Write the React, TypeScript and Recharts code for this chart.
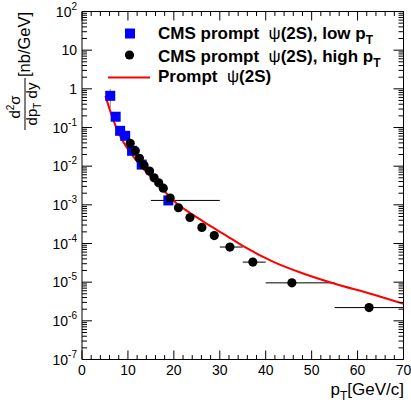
import React from "react";
import {
  ComposedChart,
  ErrorBar,
  Line,
  ReferenceLine,
  Scatter,
  XAxis,
  YAxis,
} from "recharts";

const FONT = '"Liberation Sans", Arial, Helvetica, sans-serif';

const W = 411;
const H = 403;
const PLOT_LEFT = 82;
const PLOT_RIGHT = 403.5;
const PLOT_TOP = 11.5;
const PLOT_BOTTOM = 359.5;
const Y_AXIS_W = 60;
const X_AXIS_H = 30;

// CMS prompt psi(2S), low pT (blue squares)
const lowPt = [6.15, 7.33, 8.3, 9.4, 10.9, 13.0, 18.8];
const lowVal = [0.66, 0.19, 0.082, 0.061, 0.025, 0.011, 0.0013];
const lowErrLo = [0, 0, 0, 0, 0, 0, 3.8];
const lowErrHi = [0, 0, 0, 0, 0, 0, 11.2];
const lowErrY = [0.34, 0, 0, 0, 0, 0, 0];

// CMS prompt psi(2S), high pT (black circles)
const highPt = [10.5, 11.6, 12.5, 13.5, 14.7, 15.7, 16.7, 17.7, 19.2, 21.0, 23.5, 26.1, 28.8, 32.2, 37.2, 45.7, 62.5];
const highVal = [0.039, 0.025, 0.016, 0.0105, 0.0075, 0.005, 0.0037, 0.0027, 0.0015, 0.00084, 0.00047, 0.00026, 0.00016, 8.1e-5, 3.3e-5, 9.6e-6, 2.2e-6];
const highErrLo = [0, 0, 0, 0, 0, 0, 0, 0, 0, 0, 0, 0, 0, 2.2, 2.2, 5.7, 7.5];
const highErrHi = [0, 0, 0, 0, 0, 0, 0, 0, 0, 0, 0, 0, 0, 2.8, 2.8, 9.3, 7.5];

// Prompt psi(2S) prediction (red curve)
const curvePt = [5.1, 6.5, 7.6, 9.0, 10.9, 12.7, 14.9, 17.7, 20.7, 23.0, 25.7, 28.0, 30.8, 35.0, 41.8, 48.0, 54.5, 63.4, 70];
const curveVal = [0.66, 0.2, 0.091, 0.042, 0.0195, 0.0105, 0.0054, 0.0024, 0.00107, 0.00068, 0.00042, 0.00028, 0.000178, 8.7e-5, 3.3e-5, 1.7e-5, 9.5e-6, 4.8e-6, 2.75e-6];

const xTicks = [0, 2, 4, 6, 8, 10, 12, 14, 16, 18, 20, 22, 24, 26, 28, 30, 32, 34, 36, 38, 40, 42, 44, 46, 48, 50, 52, 54, 56, 58, 60, 62, 64, 66, 68, 70];
const xMajor = [0, 10, 20, 30, 40, 50, 60, 70];

const yDecades = [-7, -6, -5, -4, -3, -2, -1, 0, 1, 2];
const yLabels: Record<number, [string, string]> = {
  [-7]: ["10", "-7"],
  [-6]: ["10", "-6"],
  [-5]: ["10", "-5"],
  [-4]: ["10", "-4"],
  [-3]: ["10", "-3"],
  [-2]: ["10", "-2"],
  [-1]: ["10", "-1"],
  0: ["1", ""],
  1: ["10", ""],
  2: ["10", "2"],
};

const yTicks: number[] = [];
yDecades.forEach((d) => {
  if (d === 2) {
    yTicks.push(100);
    return;
  }
  for (let m = 1; m <= 9; m++) yTicks.push(m * Math.pow(10, d));
});

const lowData = lowPt.map((x, i) => ({
  x,
  y: lowVal[i],
  ex: [lowErrLo[i], lowErrHi[i]],
  ey: lowErrY[i],
}));
const highData = highPt.map((x, i) => ({ x, y: highVal[i], ex: [highErrLo[i], highErrHi[i]] }));
const curveData = curvePt.map((x, i) => ({ x, y: curveVal[i] }));

function XTick(props: any) {
  const { x, payload } = props;
  const v = payload.value;
  const major = xMajor.includes(v);
  const len = major ? 9 : 4.5;
  return (
    <g>
      <line x1={x} x2={x} y1={PLOT_BOTTOM} y2={PLOT_BOTTOM - len} stroke="#000" strokeWidth={1} />
      <line x1={x} x2={x} y1={PLOT_TOP} y2={PLOT_TOP + len} stroke="#000" strokeWidth={1} />
      {major && (
        <text x={x} y={375} textAnchor="middle" fontFamily={FONT} fontSize={14} fill="#000">
          {v}
        </text>
      )}
    </g>
  );
}

function YTick(props: any) {
  const { y, payload } = props;
  const v = payload.value;
  const lg = Math.log10(v);
  const dec = Math.round(lg);
  const major = Math.abs(lg - dec) < 1e-6;
  const len = major ? 10 : 5;
  const lab = yLabels[dec];
  return (
    <g>
      <line x1={PLOT_LEFT} x2={PLOT_LEFT + len} y1={y} y2={y} stroke="#000" strokeWidth={1} />
      <line x1={PLOT_RIGHT} x2={PLOT_RIGHT - len} y1={y} y2={y} stroke="#000" strokeWidth={1} />
      {major && lab && (
        <text x={77} y={y + 5} textAnchor="end" fontFamily={FONT} fontSize={14} fill="#000">
          <tspan>{lab[0]}</tspan>
          {lab[1] && (
            <tspan dy={-7} fontSize={10}>
              {lab[1]}
            </tspan>
          )}
        </text>
      )}
    </g>
  );
}

const squareShape = (p: any) => (
  <rect x={p.cx - 5} y={p.cy - 5} width={10} height={10} fill="#0000ff" />
);
const circleShape = (p: any) => <circle cx={p.cx} cy={p.cy} r={4.6} fill="#000" />;

export default function App() {
  return (
    <div style={{ position: "fixed", left: 0, top: 0, width: W, height: H, background: "#fff" }}>
      <ComposedChart
        width={W}
        height={H}
        margin={{
          top: PLOT_TOP,
          right: W - PLOT_RIGHT,
          bottom: H - PLOT_BOTTOM - X_AXIS_H,
          left: PLOT_LEFT - Y_AXIS_W,
        }}
      >
        <XAxis
          dataKey="x"
          type="number"
          domain={[0, 70]}
          allowDataOverflow
          ticks={xTicks}
          interval={0}
          tick={XTick}
          tickLine={false}
          height={X_AXIS_H}
          axisLine={{ stroke: "#000" }}
        />
        <YAxis
          dataKey="y"
          type="number"
          scale="log"
          domain={[1e-7, 100]}
          allowDataOverflow
          ticks={yTicks}
          interval={0}
          tick={YTick}
          tickLine={false}
          width={Y_AXIS_W}
          axisLine={{ stroke: "#000" }}
        />
        <ReferenceLine x={70} stroke="#000" />
        <ReferenceLine y={100} stroke="#000" />
        <Scatter data={lowData} shape={squareShape} isAnimationActive={false}>
          <ErrorBar dataKey="ey" direction="y" width={0} stroke="#888" strokeWidth={1} />
          <ErrorBar dataKey="ex" direction="x" width={0} stroke="#000" strokeWidth={1} />
        </Scatter>
        <Scatter data={highData} shape={circleShape} isAnimationActive={false}>
          <ErrorBar dataKey="ex" direction="x" width={0} stroke="#000" strokeWidth={1} />
        </Scatter>
        <Line
          data={curveData}
          dataKey="y"
          type="monotone"
          stroke="#ff0000"
          strokeWidth={2}
          dot={false}
          activeDot={false}
          isAnimationActive={false}
        />
      </ComposedChart>
      <svg
        width={W}
        height={H}
        style={{ position: "absolute", left: 0, top: 0, pointerEvents: "none" }}
        fontFamily={FONT}
      >
        {/* legend */}
        <rect x={125} y={28.5} width={10} height={10} fill="#0000ff" />
        <circle cx={129.5} cy={55} r={4.6} fill="#000" />
        <line x1={108} x2={150} y1={77.5} y2={77.5} stroke="#ff0000" strokeWidth={2} />
        <text x={158} y={38.5} fontSize={17} fontWeight="bold" fill="#000">
          CMS prompt{"\u00a0\u00a0"}
          <tspan fontWeight="normal">ψ</tspan>(2S), low p
          <tspan fontSize={12} dy={5}>T</tspan>
        </text>
        <text x={158} y={61.5} fontSize={17} fontWeight="bold" fill="#000">
          CMS prompt{"\u00a0\u00a0"}
          <tspan fontWeight="normal">ψ</tspan>(2S), high p
          <tspan fontSize={12} dy={5}>T</tspan>
        </text>
        <text x={158} y={82} fontSize={17} fontWeight="bold" fill="#000">
          Prompt{"\u00a0\u00a0"}
          <tspan fontWeight="normal">ψ</tspan>(2S)
        </text>
        {/* y title */}
        <g transform="translate(25,104) rotate(-90)">
          <text x={-3} y={-5} textAnchor="middle" fontSize={15} fill="#000">
            d<tspan fontSize={10} dy={-6}>2</tspan>
            <tspan dy={6}>σ</tspan>
          </text>
          <line x1={-26} x2={26} y1={0} y2={0} stroke="#000" strokeWidth={1} />
          <text x={0} y={12} textAnchor="middle" fontSize={15} fill="#000">
            dp<tspan fontSize={10} dy={4}>T</tspan>
            <tspan dy={-4}>{"\u00a0"}dy</tspan>
          </text>
          <text x={27} y={5} fontSize={16.5} fill="#000">
            [nb/GeV]
          </text>
        </g>
        {/* x title */}
        <text x={404} y={395} textAnchor="end" fontSize={17} fill="#000">
          p<tspan fontSize={12} dy={5}>T</tspan>
          <tspan dy={-5}>[GeV/c]</tspan>
        </text>
      </svg>
    </div>
  );
}
